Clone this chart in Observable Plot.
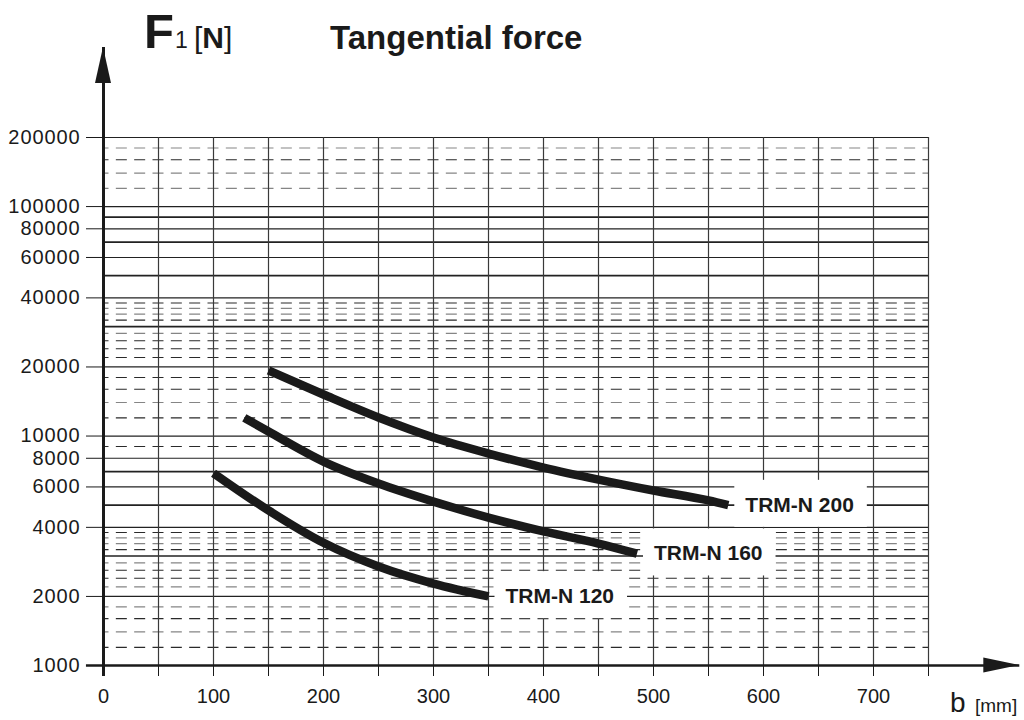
<!DOCTYPE html>
<html>
<head>
<meta charset="utf-8">
<script src="https://cdn.jsdelivr.net/npm/d3@7"></script>
<script src="https://cdn.jsdelivr.net/npm/@observablehq/plot@0.6"></script>
<style>
  body { margin: 0; background: #fff; }
  #wrap { position: relative; width: 1024px; height: 720px; }
</style>
</head>
<body>
<div id="wrap"></div>
<script>
// ---- data ----
const xTicks = [0, 50, 100, 150, 200, 250, 300, 350, 400, 450, 500, 550, 600, 650, 700, 750];
const xTickLabels = [0, 100, 200, 300, 400, 500, 600, 700];
const yTicks = [1000, 2000, 4000, 6000, 8000, 10000, 20000, 40000, 60000, 80000, 100000, 200000];
const xGrid = [50, 100, 150, 200, 250, 300, 350, 400, 450, 500, 550, 600, 650, 700, 750];
const solidThin = [2000, 4000, 6000, 8000, 10000, 20000, 40000, 60000, 80000, 100000, 200000];
const solidThick = [3000, 5000, 7000, 30000, 50000, 70000, 90000];
const dashedDark = [1200, 1600, 2400, 2600, 3200, 3800, 9000, 12000, 16000, 18000, 22000, 24000, 26000, 32000, 38000, 160000];
const dashedGray = [1400, 1800, 2200, 2800, 3400, 3600, 14000, 28000, 34000, 36000, 120000, 140000, 180000];

const seriesNames = ["TRM-N 200", "TRM-N 160", "TRM-N 120"];
const b200 = [150, 200, 250, 300, 350, 400, 450, 500, 550, 568];
const f200 = [19300, 15170, 12040, 9850, 8390, 7290, 6460, 5790, 5240, 5000];
const b160 = [128, 150, 200, 250, 300, 350, 400, 450, 485];
const f160 = [12000, 10460, 7740, 6210, 5180, 4410, 3840, 3400, 3070];
const b120 = [100, 150, 200, 250, 300, 350];
const f120 = [6890, 4740, 3425, 2700, 2275, 2000];

// axis extents (data units): axis lines run past the frame to the arrow tips
const xAxisStart = -15.5;
const xAxisTip = 833;
const yAxisBottom = 896;
const yAxisTip = 493000;

// ---- build tables ----
const seriesB = [b200, b160, b120];
const seriesF = [f200, f160, f120];
const rows = [];
seriesNames.forEach((name, s) => {
  seriesB[s].forEach((b, i) => rows.push({series: name, b, f: seriesF[s][i]}));
});
const ends = seriesNames.map((name, s) => ({
  name, b: seriesB[s][seriesB[s].length - 1], f: seriesF[s][seriesF[s].length - 1]
}));

const ink = "#1a1a1a";
const dash = "11,7.333";
const font = "'Liberation Sans', Arial, Helvetica, sans-serif";

const plot = Plot.plot({
  width: 1024,
  height: 720,
  marginLeft: 103,
  marginRight: 96,
  marginTop: 137,
  marginBottom: 55,
  style: {fontFamily: font, fontSize: "20px", color: ink, background: "white", overflow: "visible"},
  x: {domain: [0, 750], ticks: xTicks, tickFormat: d => xTickLabels.includes(d) ? String(d) : "", tickSize: 11, tickPadding: 12, label: null},
  y: {type: "log", domain: [1000, 200000], ticks: yTicks, tickFormat: () => "", tickSize: 17, tickPadding: 6, label: null},
  marks: [
    Plot.ruleY(dashedGray, {x1: 0, x2: 750, stroke: "#858585", strokeWidth: 1.2, strokeDasharray: dash, strokeDashoffset: 5.5}),
    Plot.ruleY(dashedDark, {x1: 0, x2: 750, stroke: "#2a2a2a", strokeWidth: 1.1, strokeDasharray: dash, strokeDashoffset: 5.5}),
    Plot.ruleY(solidThin, {x1: 0, x2: 750, stroke: "#222", strokeWidth: 1.2}),
    Plot.ruleY(solidThick, {x1: 0, x2: 750, stroke: "#222", strokeWidth: 1.7}),
    Plot.ruleX(xGrid, {y1: 1000, y2: 200000, stroke: "#3a3a3a", strokeWidth: 1.2}),
    Plot.ruleY([1000], {x1: xAxisStart, x2: xAxisTip, stroke: ink, strokeWidth: 2.6}),
    Plot.ruleX([0], {y1: yAxisBottom, y2: yAxisTip, stroke: ink, strokeWidth: 3}),
    Plot.text(yTicks, {x: 0, y: d => d, text: d => String(d), textAnchor: "end", dx: -23, fontSize: 20, fill: ink}),
    Plot.line(rows, {x: "b", y: "f", z: "series", stroke: ink, strokeWidth: 8.5, curve: "monotone-x", strokeLinecap: "butt"}),
    Plot.text(ends, {x: "b", y: "f", text: "name", textAnchor: "start", dx: 17, fontSize: 21, fontWeight: "bold", fill: ink})
  ]
});

document.getElementById("wrap").appendChild(plot);

const svg = d3.select(plot);
const sx = plot.scale("x"), sy = plot.scale("y");
const textGroups = plot.querySelectorAll('g[aria-label="text"]');

// y tick labels: the reference digits are set wide
if (textGroups[0]) d3.select(textGroups[0]).selectAll("text").style("letter-spacing", "0.9px");

// white boxes behind curve labels
const gNode = textGroups[textGroups.length - 1];
if (gNode) {
  const texts = Array.from(gNode.querySelectorAll("text"));
  const first = gNode.firstChild;
  texts.forEach(t => {
    const bb = t.getBBox();
    const r = document.createElementNS("http://www.w3.org/2000/svg", "rect");
    const padX = 11, h = 47;
    r.setAttribute("x", bb.x - padX);
    r.setAttribute("y", bb.y + bb.height / 2 - h / 2 - 1);
    r.setAttribute("width", bb.width + 2 * padX + 2);
    r.setAttribute("height", h);
    r.setAttribute("fill", "white");
    r.setAttribute("stroke", "none");
    const tr = t.getAttribute("transform");
    if (tr) r.setAttribute("transform", tr);
    gNode.insertBefore(r, first);
  });
}

// filled arrowheads
const x0 = sx.apply(0), yT = sy.apply(yAxisTip);
svg.append("path")
  .attr("d", `M${x0},${yT} L${x0 - 8},${yT + 36} L${x0 + 8},${yT + 36} Z`)
  .attr("fill", ink);
const xT = sx.apply(xAxisTip), y0 = sy.apply(1000);
svg.append("path")
  .attr("d", `M${xT},${y0} L${xT - 36},${y0 - 7.5} L${xT - 36},${y0 + 7.5} Z`)
  .attr("fill", ink);

// titles
const addText = (x, y, size, weight, str) => svg.append("text")
  .attr("x", x).attr("y", y).attr("text-anchor", "start")
  .attr("font-family", font).attr("font-size", size).attr("font-weight", weight)
  .attr("fill", ink).text(str);
addText(144, 48, 49, "bold", "F");
addText(175, 48, 23, "normal", "1");
const unit = svg.append("text").attr("x", 194).attr("y", 48).attr("text-anchor", "start")
  .attr("font-family", font).attr("font-size", 30).attr("fill", ink);
unit.append("tspan").text("[");
unit.append("tspan").attr("font-weight", "bold").text("N");
unit.append("tspan").text("]");
addText(330, 49, 33, "bold", "Tangential force");
addText(950, 712, 28, "normal", "b");
addText(975, 712, 19, "normal", "[mm]");
</script>
</body>
</html>
